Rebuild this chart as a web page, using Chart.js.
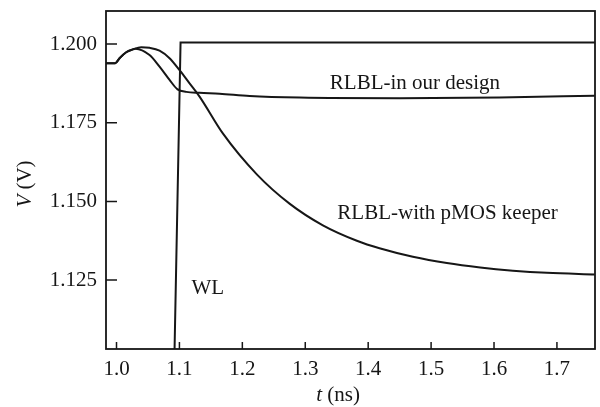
<!DOCTYPE html>
<html>
<head>
<meta charset="utf-8">
<script src="https://cdn.jsdelivr.net/npm/chart.js@4.4.1/dist/chart.umd.min.js"></script>
<style>
  html, body { margin: 0; padding: 0; background: #fff; }
  #wrap { width: 600px; height: 407px; }
</style>
</head>
<body>
<div id="wrap"><canvas id="chart" width="600" height="407"></canvas></div>
<script>
// RLBL voltage traces (t in ns, V in volts)
const tOurs = [0.983, 0.998, 1.0048, 1.0154, 1.0259, 1.0302, 1.0525, 1.0684, 1.0843, 1.097, 1.1109, 1.132, 1.1639, 1.2116, 1.291, 1.450, 1.609, 1.760];
const vOurs = [1.1939, 1.1939, 1.1955, 1.1974, 1.1983, 1.1985, 1.1965, 1.1928, 1.1886, 1.1856, 1.1848, 1.1845, 1.1842, 1.1835, 1.1830, 1.1828, 1.1830, 1.1836];

const tPmos = [0.983, 0.998, 1.0048, 1.0154, 1.0259, 1.0393, 1.0525, 1.0684, 1.0843, 1.1002, 1.1161, 1.132, 1.169, 1.223, 1.275, 1.328, 1.382, 1.418, 1.471, 1.525, 1.578, 1.630, 1.684, 1.760];
const vPmos = [1.1939, 1.1939, 1.1955, 1.1974, 1.1983, 1.1990, 1.1988, 1.1979, 1.1955, 1.1917, 1.1875, 1.1833, 1.1716, 1.1586, 1.1493, 1.1424, 1.1375, 1.1351, 1.1324, 1.1304, 1.1290, 1.1280, 1.1273, 1.1268];

const tWl = [1.0910, 1.1018, 1.770];
const vWl = [1.0900, 1.2005, 1.2005];

const xTicks = [1.0, 1.1, 1.2, 1.3, 1.4, 1.5, 1.6, 1.7];
const yTicks = [1.125, 1.150, 1.175, 1.200];

const curveLabels = [
  { text: 'RLBL-in our design', t: 1.339, v: 1.1876 },
  { text: 'RLBL-with pMOS keeper', t: 1.351, v: 1.1461 },
  { text: 'WL', t: 1.119, v: 1.1222 },
];

const INK = '#161616';
const SERIF = '"Liberation Serif", "DejaVu Serif", serif';
const FS = 21;

const toXY = (ts, vs) => ts.map((t, i) => ({ x: t, y: vs[i] }));

// frame, inward ticks, curve labels and axis titles
const framePlugin = {
  id: 'frame',
  afterDatasetsDraw(chart) {
    const { ctx, chartArea: a, scales: { x, y } } = chart;
    ctx.save();
    ctx.strokeStyle = INK;
    ctx.lineWidth = 1.8;
    ctx.strokeRect(a.left, a.top, a.right - a.left, a.bottom - a.top);

    ctx.lineWidth = 1.5;
    ctx.beginPath();
    x.ticks.forEach(tk => {
      const px = x.getPixelForValue(tk.value);
      ctx.moveTo(px, a.bottom);
      ctx.lineTo(px, a.bottom - 7);
    });
    y.ticks.forEach(tk => {
      const py = y.getPixelForValue(tk.value);
      ctx.moveTo(a.left, py);
      ctx.lineTo(a.left + 11, py);
    });
    ctx.stroke();

    ctx.fillStyle = INK;
    ctx.font = FS + 'px ' + SERIF;
    ctx.textBaseline = 'middle';
    ctx.textAlign = 'left';
    curveLabels.forEach(l => {
      ctx.fillText(l.text, x.getPixelForValue(l.t), y.getPixelForValue(l.v));
    });

    // x title: italic t + " (ns)"
    const it = 'italic ' + FS + 'px ' + SERIF, rm = FS + 'px ' + SERIF;
    ctx.font = it; const w1 = ctx.measureText('t').width;
    ctx.font = rm; const w2 = ctx.measureText(' (ns)').width;
    let sx = 338 - (w1 + w2) / 2;
    ctx.font = it; ctx.fillText('t', sx, 395);
    ctx.font = rm; ctx.fillText(' (ns)', sx + w1, 395);

    // y title: italic V + " (V)", rotated
    ctx.translate(25, 184);
    ctx.rotate(-Math.PI / 2);
    ctx.font = it; const w3 = ctx.measureText('V').width;
    ctx.font = rm; const w4 = ctx.measureText(' (V)').width;
    sx = -(w3 + w4) / 2;
    ctx.font = it; ctx.fillText('V', sx, 0);
    ctx.font = rm; ctx.fillText(' (V)', sx + w3, 0);
    ctx.restore();
  }
};

const lineStyle = { borderColor: INK, borderWidth: 2, pointRadius: 0, fill: false };

new Chart(document.getElementById('chart').getContext('2d'), {
  type: 'line',
  data: {
    datasets: [
      { label: 'RLBL-in our design', data: toXY(tOurs, vOurs), cubicInterpolationMode: 'monotone', ...lineStyle },
      { label: 'RLBL-with pMOS keeper', data: toXY(tPmos, vPmos), cubicInterpolationMode: 'monotone', ...lineStyle },
      { label: 'WL', data: toXY(tWl, vWl), tension: 0, ...lineStyle },
    ],
  },
  options: {
    responsive: false,
    animation: false,
    layout: { padding: { top: 11, right: 5, left: 0, bottom: 0 } },
    plugins: { legend: { display: false }, tooltip: { enabled: false } },
    scales: {
      x: {
        type: 'linear',
        min: 0.9833,
        max: 1.7605,
        afterBuildTicks: s => { s.ticks = xTicks.map(v => ({ value: v })); },
        afterFit: s => { s.height = 58; s.paddingLeft = 0; s.paddingRight = 0; },
        grid: { display: false, drawTicks: false },
        border: { display: false },
        ticks: {
          color: INK,
          font: { family: SERIF, size: FS },
          padding: 8,
          maxRotation: 0,
          callback: v => v.toFixed(1),
        },
      },
      y: {
        type: 'linear',
        min: 1.1031,
        max: 1.2105,
        afterBuildTicks: s => { s.ticks = yTicks.map(v => ({ value: v })); },
        afterFit: s => { s.width = 106; s.paddingTop = 0; s.paddingBottom = 0; },
        grid: { display: false, drawTicks: false },
        border: { display: false },
        ticks: {
          color: INK,
          font: { family: SERIF, size: FS },
          padding: 9,
          callback: v => v.toFixed(3),
        },
      },
    },
  },
  plugins: [framePlugin],
});
</script>
</body>
</html>
